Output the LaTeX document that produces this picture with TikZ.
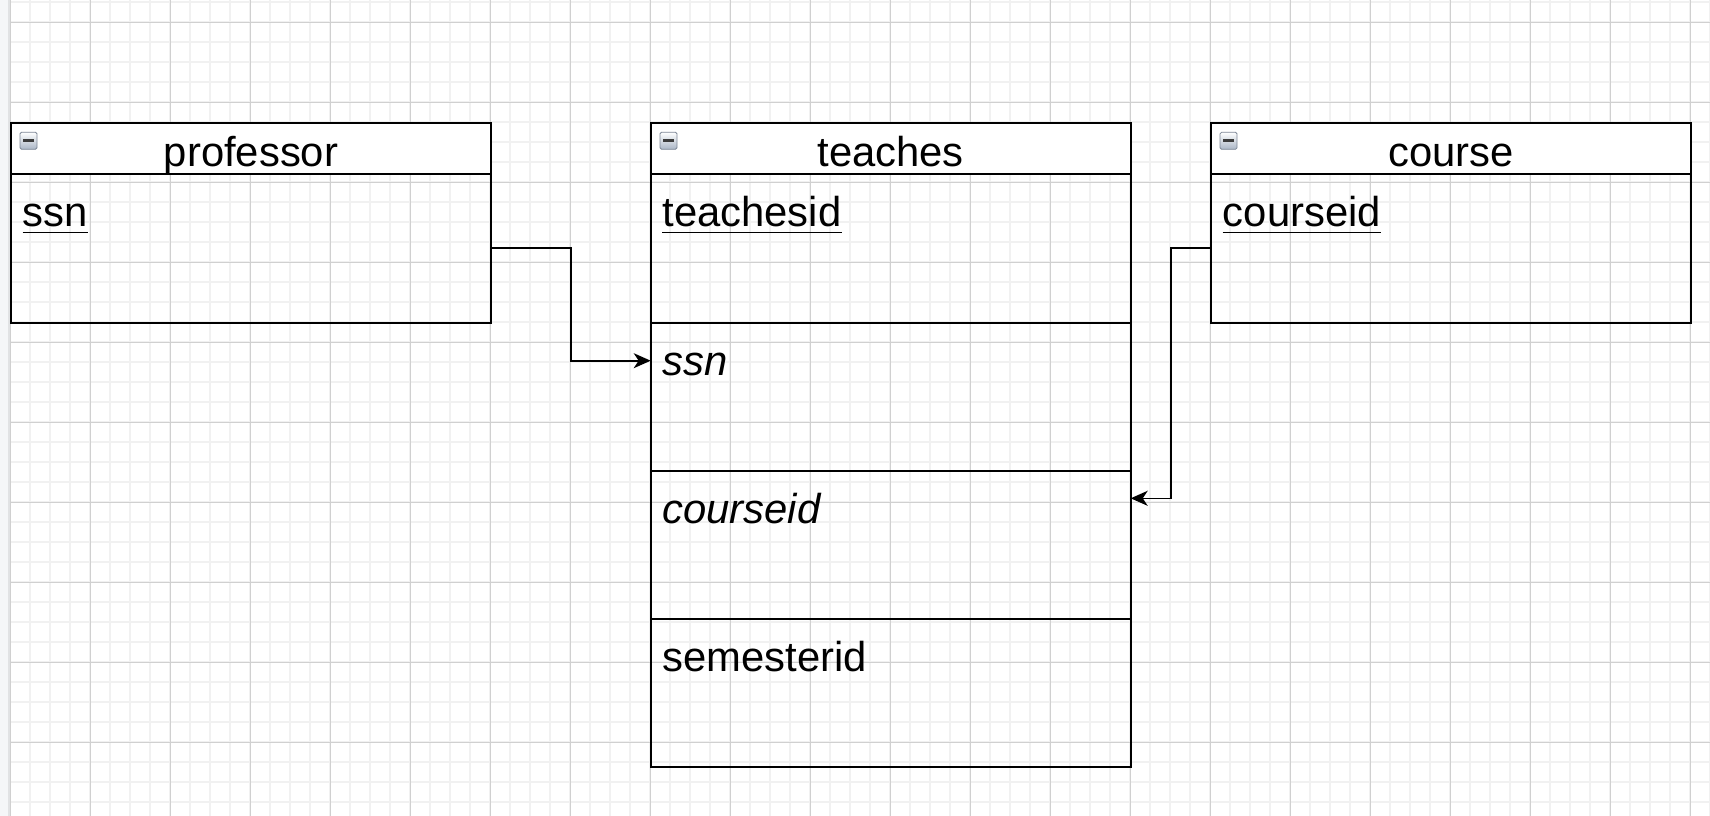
\documentclass[tikz,border=0pt]{standalone}
\usepackage{fontspec}
\setmainfont{Liberation Sans}
\usetikzlibrary{arrows.meta}
\definecolor{gminor}{RGB}{241,241,241}
\definecolor{gmajor}{RGB}{208,208,208}
\definecolor{stripc}{RGB}{245,246,248}
\definecolor{stripedge}{RGB}{225,226,228}
\definecolor{iconfill}{RGB}{170,182,198}
\definecolor{iconedge}{RGB}{125,135,150}
\definecolor{iconbar}{RGB}{60,60,60}
\newcommand\mkicon[2]{%
  \shade[top color=white, bottom color=iconfill, draw=iconedge, line width=0.8pt, rounded corners=1.5pt] (#1,#2) rectangle ++(17,17);
  \fill[iconbar] (#1+3,#2+6.8) rectangle ++(11,3.2);}
\begin{document}
\begin{tikzpicture}[x=1pt,y=-1pt,
  box/.style={draw=black, line width=1.6pt, minimum width=480pt, inner sep=0pt, outer sep=0pt, anchor=north west},
  hdr/.style={box, fill=white, minimum height=51pt},
  row/.style={box, minimum height=148pt},
  ttl/.style={anchor=base, inner sep=0pt, font=\fontsize{41.8}{50}\selectfont},
  fld/.style={anchor=base west, inner sep=0pt, font=\fontsize{41.8}{50}\selectfont},
  uline/.style={line width=1.6pt},
  conn/.style={line width=1.6pt, -{Stealth[length=17pt,width=15pt,inset=5pt]}},
]
\useasboundingbox (0,0) rectangle (1710,816);
\fill[white] (0,0) rectangle (1710,816);
% grid
\foreach \x in {10,30,...,1710} \draw[gminor, line width=1.3pt] (\x,0) -- (\x,816);
\foreach \y in {2,22,...,816} \draw[gminor, line width=1.3pt] (0,\y) -- (1710,\y);
\foreach \x in {10,90,...,1710} \draw[gmajor, line width=0.9pt] (\x,0) -- (\x,816);
\foreach \y in {22,102,...,816} \draw[gmajor, line width=0.9pt] (0,\y) -- (1710,\y);
% left strip
\fill[stripc] (0,0) rectangle (8,816);
\draw[stripedge, line width=2pt] (8.5,0) -- (8.5,816);

% professor
\node[hdr] (phead) at (11,122.7) {};
\node[box, minimum height=149pt] (pbody) at (11,173.7) {};
\node[ttl] (ptitle) at (251,166.7) {professor};
\node[fld] (pf1) at (22.7,226.7) {ssn};
\draw[uline] ([yshift=-5.6pt]pf1.base west) -- ([yshift=-5.6pt]pf1.base east);
\mkicon{20}{132.3}

% teaches
\node[hdr] (thead) at (650.7,122.7) {};
\node[box, minimum height=149pt] (tr1) at (650.7,173.7) {};
\node[row] (tr2) at (650.7,322.7) {};
\node[row] (tr3) at (650.7,470.7) {};
\node[row] (tr4) at (650.7,618.7) {};
\node[ttl] (ttitle) at (890.7,166.7) {teaches};
\node[fld] (tf1) at (662.3,226.7) {teachesid};
\draw[uline] ([yshift=-5.6pt]tf1.base west) -- ([yshift=-5.6pt]tf1.base east);
\node[fld] (tf2) at (662.3,375.4) {\itshape ssn};
\node[fld] (tf3) at (662.3,523.4) {\itshape courseid};
\node[fld] (tf4) at (662.3,671.4) {semesterid};
\mkicon{660}{132.3}

% course
\node[hdr] (chead) at (1211,122.7) {};
\node[box, minimum height=149pt] (cbody) at (1211,173.7) {};
\node[ttl] (ctitle) at (1451,166.7) {course};
\node[fld] (cf1) at (1222.7,226.7) {courseid};
\draw[uline] ([yshift=-5.6pt]cf1.base west) -- ([yshift=-5.6pt]cf1.base east);
\mkicon{1220}{132.3}

% connectors
\coordinate (a1) at (650.7,360.7);
\coordinate (a2) at (1130.7,498.3);
\draw[conn] (pbody.east) -- ++(79.7,0) |- (a1);
\draw[conn] (cbody.west) -- ++(-40.3,0) |- (a2);
\end{tikzpicture}
\end{document}
